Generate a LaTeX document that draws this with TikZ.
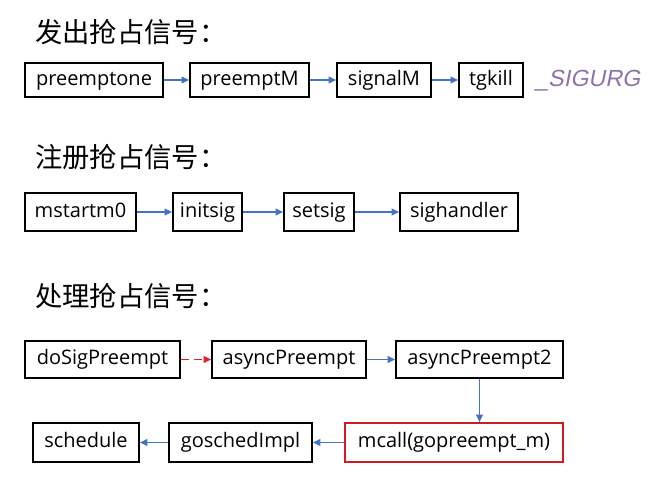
\documentclass[tikz,border=0pt]{standalone}
\usepackage{fontspec}
\setmainfont{Open Sans}
\newfontfamily\cjk{Noto Sans CJK SC}
\newfontfamily\dolt[FakeSlant=0.2]{Liberation Sans}
\usetikzlibrary{arrows.meta,positioning}
\definecolor{hivkek}{RGB}{68,114,196}
\definecolor{piros}{RGB}{230,30,40}
\definecolor{lila}{RGB}{140,115,170}
\tikzset{
  fn/.style={draw,line width=1.3pt,inner sep=0pt,text height=11pt,text depth=3.5pt,
    font=\fontsize{15}{18}\selectfont},
  bw/.style={minimum width=#1*0.75pt},
  bh/.style={minimum height=#1*0.75pt},
  hiv/.style={draw=hivkek,line width=1pt,-{Triangle[length=2mm,width=1.8mm]}},
  cim/.style={anchor=west,inner sep=0pt,font=\cjk\fontsize{20.5}{24}\selectfont},
}
\begin{document}
\begin{tikzpicture}[x=0.75pt,y=-0.75pt]
  \useasboundingbox (0,0) rectangle (660,478);
  % kuldes
  \node[cim] (t1) at (35,32) {发出抢占信号：};
  \node[fn,bw=138,bh=34] (preemptone) at (94,80) {preemptone};
  \node[fn,bw=119,bh=34] (preemptM) at (249.5,80) {preemptM};
  \node[fn,bw=94,bh=34] (signalM) at (384,80) {signalM};
  \node[fn,bw=64,bh=34] (tgkill) at (491,80) {tgkill};
  \node[anchor=west,inner sep=0pt,text=lila,font=\dolt\fontsize{17.5}{20}\selectfont]
    (sigurg) at (535,81) {\_SIGURG};
  \draw[hiv] (preemptone) -- (preemptM);
  \draw[hiv] (preemptM) -- (signalM);
  \draw[hiv] (signalM) -- (tgkill);
  % regisztralas
  \node[cim] (t2) at (35,157) {注册抢占信号：};
  \node[fn,bw=111,bh=38] (mstartm0) at (80.5,212) {mstartm0};
  \node[fn,bw=69,bh=38] (initsig) at (207.5,212) {initsig};
  \node[fn,bw=70,bh=38] (setsig) at (319,212) {setsig};
  \node[fn,bw=118,bh=38] (sighandler) at (459,212) {sighandler};
  \draw[hiv] (mstartm0) -- (initsig);
  \draw[hiv] (initsig) -- (setsig);
  \draw[hiv] (setsig) -- (sighandler);
  % kezeles
  \node[cim] (t3) at (35,296) {处理抢占信号：};
  \node[fn,bw=155,bh=37] (doSig) at (102.5,359.5) {doSigPreempt};
  \node[fn,bw=154,bh=37] (async) at (289,359.5) {asyncPreempt};
  \node[fn,bw=167,bh=37] (async2) at (479.5,359.5) {asyncPreempt2};
  \node[fn,bw=106,bh=39] (schedule) at (86,442.5) {schedule};
  \node[fn,bw=143,bh=39] (gosched) at (240.5,442.5) {goschedImpl};
  \node[fn,draw=piros!90!black,bw=218,bh=39] (mcall) at (454,442.5) {mcall(gopreempt\_m)};
  \draw[hiv,draw=piros,dash pattern=on 6pt off 4pt] (doSig) -- (async);
  \draw[hiv] (async) -- (async2);
  \draw[hiv] (async2.south) -- (async2.south |- mcall.north);
  \draw[hiv] (mcall) -- (gosched);
  \draw[hiv] (gosched) -- (schedule);
\end{tikzpicture}
\end{document}
